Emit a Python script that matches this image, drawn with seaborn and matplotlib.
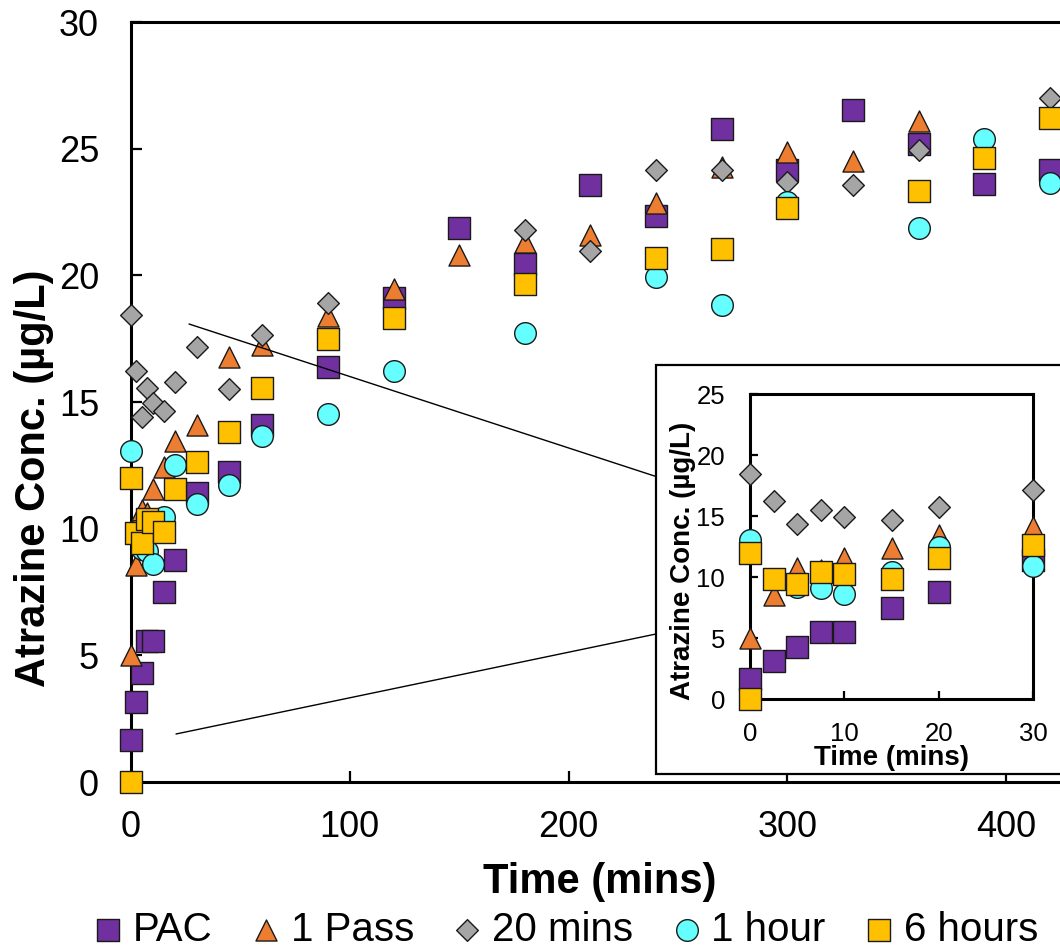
import numpy as np
import pandas as pd
import matplotlib
matplotlib.use("Agg")
import matplotlib.pyplot as plt
from matplotlib.patches import Rectangle
from matplotlib.lines import Line2D
import seaborn as sns

# ---------------- data ----------------
pac_t = [0, 2.5, 5, 7.5, 10, 15, 20, 30, 45, 60, 90, 120, 150, 180, 210, 240, 270, 300, 330, 360, 390, 420]
pac_v = [1.67, 3.17, 4.32, 5.55, 5.55, 7.51, 8.77, 11.4, 12.25, 14.1, 16.37, 19.1, 21.85, 20.46, 23.57, 22.35,
         25.77, 24.14, 26.53, 25.17, 23.62, 24.16]

pass_t = [0, 2.5, 5, 7.5, 10, 15, 20, 30, 45, 60, 90, 120, 150, 180, 210, 240, 270, 300, 330, 360]
pass_v = [5.0, 8.55, 10.74, 10.6, 11.56, 12.43, 13.47, 14.1, 16.79, 17.25, 18.4, 19.45, 20.8, 21.33, 21.6, 22.84,
          24.27, 24.85, 24.52, 26.1]

m20_t = [0, 2.5, 5, 7.5, 10, 15, 20, 30, 45, 60, 90, 180, 210, 240, 270, 300, 330, 360, 420]
m20_v = [18.44, 16.22, 14.4, 15.55, 14.95, 14.66, 15.77, 17.17, 15.5, 17.65, 18.9, 21.79, 20.96, 24.14, 24.14,
         23.7, 23.57, 24.95, 26.99]

h1_t = [0, 2.5, 5, 7.5, 10, 15, 20, 30, 45, 60, 90, 120, 180, 240, 270, 300, 360, 390, 420]
h1_v = [13.06, 9.9, 9.2, 9.1, 8.6, 10.46, 12.5, 10.96, 11.72, 13.67, 14.52, 16.22, 17.71, 19.95, 18.82, 22.9,
        21.88, 25.37, 23.63]

h6_t = [0, 0, 2.5, 5, 7.5, 10, 15, 20, 30, 45, 60, 90, 120, 180, 240, 270, 300, 360, 390, 420]
h6_v = [12.0, 0.0, 9.84, 9.45, 10.4, 10.25, 9.86, 11.56, 12.65, 13.83, 15.54, 17.48, 18.3, 19.66, 20.67, 21.03,
        22.67, 23.33, 24.63, 26.23]

series_names = ["PAC", "1 Pass", "20 mins", "1 hour", "6 hours"]
series_t = [pac_t, pass_t, m20_t, h1_t, h6_t]
series_v = [pac_v, pass_v, m20_v, h1_v, h6_v]
series_colors = ["#7030A0", "#ED7D31", "#A5A5A5", "#66FFFF", "#FFC000"]
series_markers = ["s", "^", "D", "o", "s"]
series_sizes = [243, 230, 122, 243, 243]

main_xticks = [0, 100, 200, 300, 400]
main_yticks = [0, 5, 10, 15, 20, 25, 30]
inset_xticks = [0, 10, 20, 30]
inset_yticks = [0, 5, 10, 15, 20, 25]

# ---------------- style ----------------
sns.set_style("ticks")
plt.rcParams["font.family"] = ["Liberation Sans", "DejaVu Sans"]
plt.rcParams["text.color"] = "black"
plt.rcParams["axes.labelcolor"] = "black"
plt.rcParams["xtick.color"] = "black"
plt.rcParams["ytick.color"] = "black"
plt.rcParams["axes.edgecolor"] = "black"

W, H = 1060, 951
fig = plt.figure(figsize=(W / 100, H / 100), dpi=100)

def fx(px):
    return px / W

def fy(py):
    return 1 - py / H

# main axes: 0 at x=131px, 2.1875 px/min ; y 0 at 782px, 30 at 22px
x_per_px = 2.1875
main_xmax = 450
ax = fig.add_axes([fx(131), fy(782), main_xmax * x_per_px / W, (782 - 22) / H])

df_list = []
for name, t, v in zip(series_names, series_t, series_v):
    df_list.append(pd.DataFrame({"Time": t, "Conc": v, "Series": name}))
df = pd.concat(df_list, ignore_index=True)

handles = []
for i, name in enumerate(series_names):
    sub = df[df["Series"] == name]
    sns.scatterplot(data=sub, x="Time", y="Conc", ax=ax, marker=series_markers[i], s=series_sizes[i],
                    color=series_colors[i], edgecolor="#1a1a1a", linewidth=1.0, clip_on=False,
                    zorder=3 + i, label=name, legend=False)
    handles.append(ax.collections[-1])

ax.set_xlim(0, main_xmax)
ax.set_ylim(0, 30)
ax.set_xticks(main_xticks)
ax.set_yticks(main_yticks)
for sp in ["left", "bottom", "top"]:
    ax.spines[sp].set_linewidth(2.2)
    ax.spines[sp].set_color("black")
ax.spines["right"].set_visible(False)
ax.tick_params(axis="both", direction="in", length=8, width=1.6, labelsize=26)
ax.tick_params(axis="y", pad=23)
ax.tick_params(axis="x", pad=20)
ax.set_xlabel("Time (mins)", fontsize=30, fontweight="bold")
ax.set_ylabel("Atrazine Conc. (µg/L)", fontsize=30, fontweight="bold")
ax.xaxis.set_label_coords(fx(600), fy(862), transform=fig.transFigure)
ax.yaxis.set_label_coords(fx(54), fy(478), transform=fig.transFigure)

# connector lines
fig.add_artist(Line2D([fx(189), fx(656)], [fy(324), fy(476.5)], color="black", lw=1.0, zorder=1.5))
fig.add_artist(Line2D([fx(176), fx(656)], [fy(734), fy(634)], color="black", lw=1.0, zorder=1.5))

# inset frame box
fig.add_artist(Rectangle((fx(656), fy(774)), fx(1120) - fx(656), (774 - 365) / H,
                         transform=fig.transFigure, facecolor="white", edgecolor="black",
                         lw=1.6, zorder=2))

# inset axes
axi = fig.add_axes([fx(750), fy(699.3), (1033.3 - 750) / W, (699.3 - 394.3) / H], zorder=3)
axi.set_facecolor("white")
for i, name in enumerate(series_names):
    sub = df[(df["Series"] == name) & (df["Time"] <= 30)]
    sns.scatterplot(data=sub, x="Time", y="Conc", ax=axi, marker=series_markers[i], s=series_sizes[i],
                    color=series_colors[i], edgecolor="#1a1a1a", linewidth=1.0, clip_on=False,
                    zorder=3 + i, legend=False)
axi.set_xlim(0, 30)
axi.set_ylim(0, 25)
axi.set_xticks(inset_xticks)
axi.set_yticks(inset_yticks)
for sp in axi.spines.values():
    sp.set_linewidth(2.2)
    sp.set_color("black")
axi.tick_params(axis="both", direction="in", length=6, width=1.6, labelsize=18.5)
axi.tick_params(axis="y", pad=18)
axi.tick_params(axis="x", pad=16)
axi.set_xlabel("Time (mins)", fontsize=20, fontweight="bold")
axi.set_ylabel("Atrazine Conc. (µg/L)", fontsize=20, fontweight="bold")
axi.xaxis.set_label_coords(fx(891.7), fy(745), transform=fig.transFigure)
axi.yaxis.set_label_coords(fx(696), fy(561), transform=fig.transFigure)

# legend
fig.legend(handles, series_names, loc="center", bbox_to_anchor=(fx(567.5), fy(930)), ncol=5,
           frameon=False, fontsize=29, handlelength=0.55, handletextpad=0.34, columnspacing=1.05,
           borderpad=0, borderaxespad=0, scatterpoints=1)

fig.savefig("out.png", dpi=100)
